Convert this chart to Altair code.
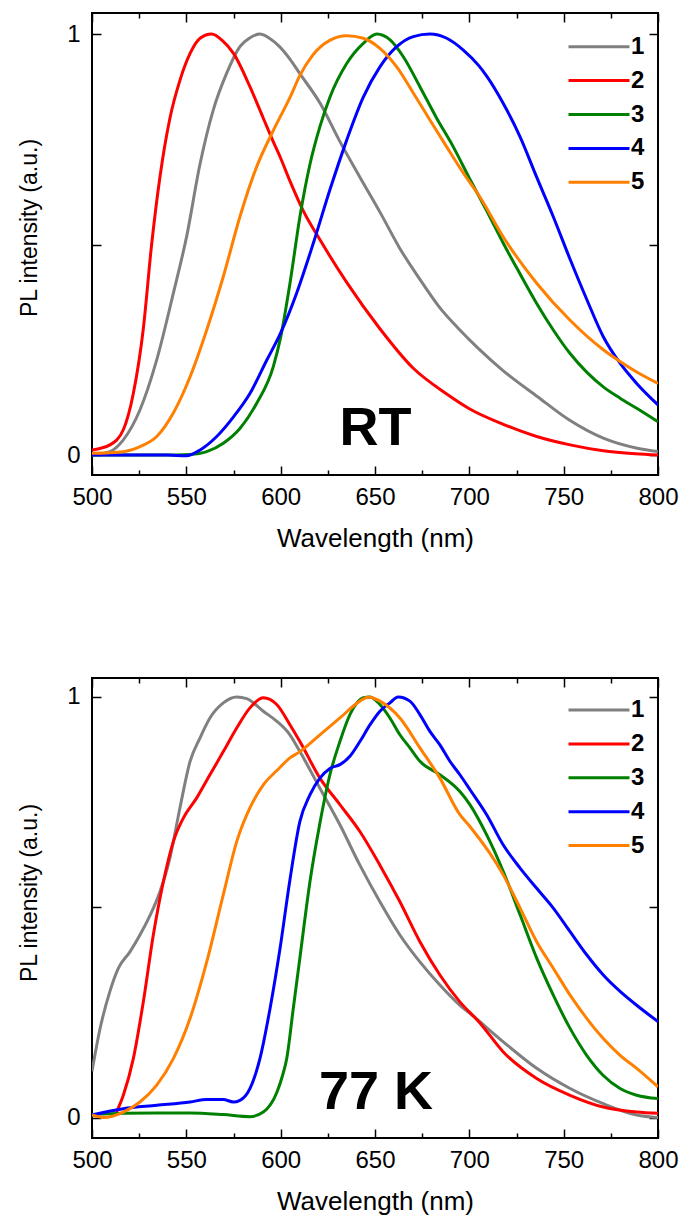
import altair as alt
import pandas as pd

FONT = "Liberation Sans"
series_names = ["1", "2", "3", "4", "5"]
series_colors = ["#808080", "#ff0000", "#008000", "#0000ff", "#ff8000"]
x_ticks_major = [500, 550, 600, 650, 700, 750, 800]
x_ticks_minor = [525, 575, 625, 675, 725, 775]
y_ticks = [0, 0.5, 1]

# ---------------- RT panel ----------------
rt_wl_1 = [500, 509.5, 516.6, 525.4, 534.3, 543.1, 550.2, 557.2, 564.3, 571.4, 578.4, 584, 589, 594, 599, 605, 610,
           621, 631, 642, 653, 663, 674, 684, 695, 705, 718, 736, 753, 771, 789, 800]
rt_pl_1 = [0.0, 0.008, 0.036, 0.107, 0.226, 0.384, 0.52, 0.69, 0.82, 0.907, 0.97, 0.992, 1.0, 0.99, 0.972, 0.94, 0.907,
           0.835, 0.748, 0.66, 0.574, 0.492, 0.416, 0.352, 0.297, 0.252, 0.2, 0.139, 0.083, 0.04, 0.016, 0.008]

rt_wl_2 = [500, 509.5, 516.6, 521.9, 527.2, 531.6, 536, 541.3, 546.6, 552, 557.3, 563.4, 569, 575, 583.7, 590.8, 596,
           600, 605, 612, 621, 635, 652.6, 670.3, 688, 700, 718, 735.7, 753.4, 771, 788, 800]
rt_pl_2 = [0.012, 0.024, 0.06, 0.146, 0.3, 0.5, 0.66, 0.8, 0.89, 0.954, 0.99, 1.0, 0.985, 0.954, 0.875, 0.8, 0.745,
           0.705, 0.65, 0.58, 0.51, 0.41, 0.3, 0.206, 0.145, 0.11, 0.073, 0.044, 0.024, 0.01, 0.003, 0.0]

rt_wl_3 = [500, 545, 552, 560.8, 569.6, 578.4, 587.3, 596.1, 600, 605, 610.2, 615.5, 620.8, 626.1, 635, 643.8, 651,
           658, 665, 673.8, 682.7, 691.5, 700.3, 709.2, 718, 726.9, 735.7, 744.5, 753.4, 762.2, 771, 779.9, 788.7, 800]
rt_pl_3 = [0.0, 0.0, 0.001, 0.008, 0.028, 0.063, 0.123, 0.21, 0.28, 0.41, 0.566, 0.69, 0.78, 0.85, 0.93, 0.978, 1.0,
           0.986, 0.946, 0.875, 0.8, 0.732, 0.655, 0.58, 0.503, 0.43, 0.36, 0.297, 0.241, 0.197, 0.162, 0.135, 0.111,
           0.079]

rt_wl_4 = [500, 540, 550, 557.3, 566.1, 574.9, 583.7, 592.6, 600, 608.5, 617.3, 626.1, 635, 643.8, 652.6, 661.5,
           670.3, 679.1, 688, 696.8, 705, 709.2, 718, 726.9, 735.7, 744.5, 753.4, 762.2, 771, 779.9, 788.7, 800]
rt_pl_4 = [0.0, 0.0, -0.002, 0.012, 0.044, 0.09, 0.146, 0.225, 0.29, 0.385, 0.503, 0.63, 0.748, 0.85, 0.922,
           0.97, 0.994, 1.0, 0.99, 0.962, 0.925, 0.9, 0.835, 0.756, 0.66, 0.566, 0.465, 0.37, 0.281, 0.218, 0.17, 0.119]

rt_wl_5 = [500, 516.6, 525.4, 534.3, 543.1, 552, 560.8, 569.6, 578.4, 587.3, 596, 605, 610, 617, 626, 635, 643.8,
           652.6, 661.5, 670.3, 679.1, 688, 696.8, 705.6, 718, 735.7, 753.4, 771, 779.9, 788.7, 800]
rt_pl_5 = [0.004, 0.008, 0.02, 0.044, 0.1, 0.186, 0.297, 0.424, 0.566, 0.685, 0.77, 0.85, 0.9, 0.95, 0.985, 0.996,
           0.99, 0.966, 0.922, 0.86, 0.796, 0.732, 0.67, 0.613, 0.518, 0.408, 0.32, 0.25, 0.222, 0.197, 0.17]

# ---------------- 77 K panel ----------------
lt_wl_1 = [500, 504.2, 509.5, 514, 520.1, 525.4, 530.7, 536, 541.3, 546.6, 552, 557.2, 562.5, 569.6, 576.7, 582,
           590.8, 598, 604.9, 610.2, 620.8, 631.4, 642, 652.6, 663.2, 673.8, 684.4, 695, 700.3, 718, 735.7, 753.4,
           771, 788.7, 800]
lt_pl_1 = [0.11, 0.21, 0.3, 0.355, 0.394, 0.434, 0.48, 0.537, 0.617, 0.736, 0.847, 0.902, 0.95, 0.986, 1.0, 0.996,
           0.966, 0.942, 0.91, 0.87, 0.783, 0.696, 0.6, 0.513, 0.434, 0.37, 0.315, 0.267, 0.248, 0.18, 0.117, 0.069,
           0.033, 0.006, 0.0]

lt_wl_2 = [513, 516.6, 521.9, 527.2, 532.5, 537.8, 543.1, 548.4, 555.5, 562.5, 569.6, 576.7, 583.7, 590.8, 597.9,
           604.9, 610.2, 620.8, 631.4, 642, 652.6, 663.2, 673.8, 684.4, 695, 705.6, 718, 735.7, 753.4, 771, 788.7, 800]
lt_pl_2 = [0.013, 0.053, 0.14, 0.275, 0.434, 0.56, 0.656, 0.712, 0.76, 0.815, 0.87, 0.926, 0.974, 0.998, 0.982,
           0.934, 0.894, 0.807, 0.744, 0.68, 0.6, 0.513, 0.418, 0.339, 0.275, 0.225, 0.156, 0.093, 0.053, 0.025,
           0.013, 0.01]

lt_wl_3 = [500, 516.6, 534.3, 552, 569.6, 583.7, 590.8, 598, 601, 603.2, 606.7, 610.2, 615.5, 620.8, 626.1, 631.4,
           636.7, 643.8, 647.4, 652.6, 657.9, 663.2, 668.5, 673.8, 684.4, 695, 700.3, 709.2, 718, 726.9, 735.7, 744.5,
           753.4, 762.2, 771, 779.9, 788.7, 800]
lt_pl_3 = [0.007, 0.01, 0.011, 0.011, 0.007, 0.002, 0.013, 0.06, 0.1, 0.14, 0.26, 0.38, 0.56, 0.7, 0.815, 0.894,
           0.958, 0.998, 1.0, 0.982, 0.95, 0.91, 0.879, 0.847, 0.815, 0.775, 0.744, 0.672, 0.585, 0.482, 0.379, 0.291,
           0.212, 0.148, 0.1, 0.069, 0.053, 0.045]

lt_wl_4 = [500, 516.6, 534.3, 552, 560.8, 569.6, 574.9, 578.4, 583.7, 589, 594.4, 599.6, 604.9, 610.2, 615.5, 620.8,
           626.1, 631.4, 636.7, 642, 647.4, 652.6, 657.9, 662.3, 668.5, 673.8, 679.1, 684.4, 689.7, 695, 700.3, 709.2,
           718, 726.9, 735.7, 744.5, 753.4, 762.2, 771, 779.9, 788.7, 800]
lt_pl_4 = [0.006, 0.021, 0.029, 0.037, 0.043, 0.043, 0.037, 0.041, 0.069, 0.14, 0.26, 0.4, 0.565, 0.704, 0.767,
           0.807, 0.83, 0.839, 0.859, 0.894, 0.934, 0.966, 0.986, 1.0, 0.99, 0.958, 0.918, 0.886, 0.847, 0.815, 0.78,
           0.72, 0.648, 0.593, 0.545, 0.498, 0.442, 0.387, 0.339, 0.3, 0.267, 0.228]

lt_wl_5 = [500, 506, 516.6, 525.4, 534.3, 543.1, 552, 560.8, 569.6, 576.7, 583.7, 590.8, 598, 604.9, 610.2, 620.8,
           631.4, 642, 646.5, 652.6, 663.2, 673.8, 684.4, 695, 700.3, 718, 726.9, 735.7, 744.5, 753.4, 762.2, 771,
           779.9, 788.7, 800]
lt_pl_5 = [0.006, 0.0, 0.013, 0.037, 0.077, 0.14, 0.236, 0.37, 0.53, 0.656, 0.736, 0.791, 0.825, 0.855, 0.87, 0.91,
           0.95, 0.99, 1.0, 0.99, 0.95, 0.879, 0.807, 0.72, 0.692, 0.577, 0.498, 0.418, 0.355, 0.291, 0.236, 0.188,
           0.148, 0.117, 0.073]

rt_wl = [rt_wl_1, rt_wl_2, rt_wl_3, rt_wl_4, rt_wl_5]
rt_pl = [rt_pl_1, rt_pl_2, rt_pl_3, rt_pl_4, rt_pl_5]
lt_wl = [lt_wl_1, lt_wl_2, lt_wl_3, lt_wl_4, lt_wl_5]
lt_pl = [lt_pl_1, lt_pl_2, lt_pl_3, lt_pl_4, lt_pl_5]


def make_panel(wls, pls, h, ydom, ann_text, ann_x, ann_y, legend_y, ytitle_y):
    rows = []
    for name, xs_, ys_ in zip(series_names, wls, pls):
        for i, (a, b) in enumerate(zip(xs_, ys_)):
            rows.append({"series": name, "wl": a, "pl": b, "order": i})
    df = pd.DataFrame(rows)
    xs = alt.Scale(domain=[500, 800], nice=False, zero=False)
    ys = alt.Scale(domain=ydom, nice=False, zero=False)
    tick_common = dict(domain=False, grid=False, tickColor="black", tickWidth=1.5)

    ax_bottom = alt.Axis(orient="bottom", values=x_ticks_major, tickSize=9, offset=-9, labelPadding=10,
                         labelFontSize=24, labelFont=FONT, labelColor="black", labelFlush=False,
                         labelOverlap=False, format="d", title="Wavelength (nm)", titleFont=FONT,
                         titleFontSize=26, titleFontWeight="normal", titleColor="black", titleY=80,
                         titleBaseline="alphabetic", **tick_common)
    ax_left = alt.Axis(orient="left", values=y_ticks, tickSize=9, offset=-9, labelPadding=12,
                       labelFontSize=24, labelFont=FONT, labelColor="black", labelFlush=False,
                       labelOverlap=False,
                       labelExpr="datum.value == 0 ? '0' : (datum.value == 1 ? '1' : '')",
                       title="PL intensity (a.u.)", titleFont=FONT, titleFontSize=23,
                       titleFontWeight="normal", titleColor="black", titleAngle=270,
                       titleBaseline="alphabetic", titleX=-64.5, titleY=ytitle_y, **tick_common)
    ax_top = alt.Axis(orient="top", values=x_ticks_major, tickSize=9, offset=-9, labels=False,
                      title=None, **tick_common)
    ax_right = alt.Axis(orient="right", values=y_ticks, tickSize=9, offset=-9, labels=False,
                        title=None, **tick_common)
    ax_bottom_minor = alt.Axis(orient="bottom", values=x_ticks_minor, tickSize=5, offset=-5, labels=False,
                               title=None, **tick_common)
    ax_top_minor = alt.Axis(orient="top", values=x_ticks_minor, tickSize=5, offset=-5, labels=False,
                            title=None, **tick_common)

    legend = alt.Legend(title=None, orient="none", legendX=475, legendY=legend_y, symbolType="stroke",
                        symbolSize=3721, symbolStrokeWidth=3, clipHeight=20, rowPadding=9.9,
                        labelFontSize=24, labelFontWeight="bold", labelFont=FONT, labelColor="black",
                        labelOffset=0, padding=0)
    color = alt.Color("series:N", scale=alt.Scale(domain=series_names, range=series_colors), legend=legend)

    lines = alt.Chart(df).mark_line(strokeWidth=3, clip=True, interpolate="monotone").encode(
        x=alt.X("wl:Q", scale=xs, axis=ax_bottom),
        y=alt.Y("pl:Q", scale=ys, axis=ax_left),
        color=color,
        order="order:Q",
    )
    ghost = alt.Chart(df).mark_line(opacity=0, strokeWidth=0)
    mirror = ghost.encode(x=alt.X("wl:Q", scale=xs, axis=ax_top), y=alt.Y("pl:Q", scale=ys, axis=ax_right),
                          detail="series:N")
    minor_b = ghost.encode(x=alt.X("wl:Q", scale=xs, axis=ax_bottom_minor), y=alt.Y("pl:Q", scale=ys, axis=None),
                           detail="series:N")
    minor_t = ghost.encode(x=alt.X("wl:Q", scale=xs, axis=ax_top_minor), y=alt.Y("pl:Q", scale=ys, axis=None),
                           detail="series:N")
    ann_df = pd.DataFrame({"x": [ann_x], "y": [ann_y], "t": [ann_text]})
    ann = alt.Chart(ann_df).mark_text(font=FONT, fontSize=54, fontWeight="bold", baseline="alphabetic",
                                      align="center", color="black").encode(
        x=alt.X("x:Q", scale=xs, axis=None), y=alt.Y("y:Q", scale=ys, axis=None), text="t:N")
    return alt.layer(lines, mirror, minor_b, minor_t, ann).resolve_axis(
        x="independent", y="independent").properties(width=566, height=h)


top = make_panel(rt_wl, rt_pl, 462, [-0.0475, 1.05], "RT", 650.3, 0.024, 23.7, 214.5)
bottom = make_panel(lt_wl, lt_pl, 460, [-0.0486, 1.045], "77 K", 650.5, 0.02, 22, 214.5)

chart = alt.vconcat(top, bottom, spacing=124).resolve_scale(
    color="independent", x="independent", y="independent"
).configure_view(stroke="black", strokeWidth=2).properties(
    padding={"left": 17, "top": 11, "right": 0, "bottom": 0}, background="white"
)

chart.save("out.html", embed_options={"renderer": "svg", "actions": False})
